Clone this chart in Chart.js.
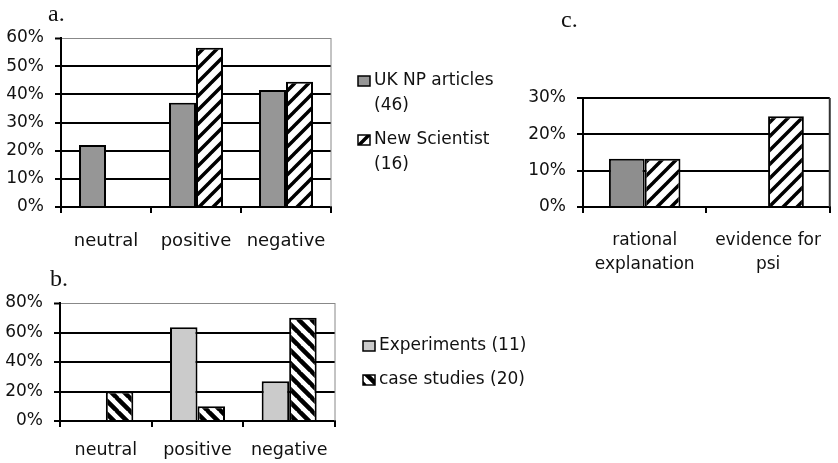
<!DOCTYPE html>
<html>
<head>
<meta charset="utf-8">
<script src="https://cdn.jsdelivr.net/npm/chart.js@4"></script>
<style>
    body { margin: 0; background: #fff; }
    #wrap { position: relative; width: 838px; height: 463px; overflow: hidden; }
    canvas { position: absolute; }
</style>
</head>
<body>
<div id="wrap">
    <canvas id="chartA" width="520" height="255" style="left:0;top:0;width:520px;height:255px"></canvas>
    <canvas id="chartB" width="560" height="208" style="left:0;top:255px;width:560px;height:208px"></canvas>
    <canvas id="chartC" width="338" height="300" style="left:500px;top:0;width:338px;height:300px"></canvas>
</div>
<script>
// a. tone of coverage, UK newspapers vs New Scientist
const toneCategories = ["neutral", "positive", "negative"];
const ukNpLabel      = ["UK NP articles", "(46)"];
const newSciLabel    = ["New Scientist", "(16)"];
const ukNpTone       = [22, 37, 41.5];
const newSciTone     = [0, 56.5, 44.5];
const toneTicks      = [0, 10, 20, 30, 40, 50, 60];

// b. experiments vs case studies
const experimentsLabel = ["Experiments (11)"];
const caseStudiesLabel = ["case studies (20)"];
const experimentsTone  = [0, 63.5, 27];
const caseStudiesTone  = [20, 10, 70];
const studyTicks       = [0, 20, 40, 60, 80];

// c. explanation offered
const explainCategories = [["rational", "explanation"], ["evidence for", "psi"]];
const ukNpExplain       = [13.3, 0];
const newSciExplain     = [13.3, 25];
const explainTicks      = [0, 10, 20, 30];

Chart.defaults.font.family = "'DejaVu Sans', sans-serif";
Chart.defaults.color = "#111";
Chart.defaults.animation = false;

function hatch(size, width, forward){
    const c = document.createElement("canvas");
    c.width = size;
    c.height = size;
    const g = c.getContext("2d");
    g.fillStyle = "#fff";
    g.fillRect(0, 0, size, size);
    g.strokeStyle = "#000";
    g.lineWidth = width;
    g.beginPath();
    for(let k = -1; k <= 1; k++){
        if(forward){
            g.moveTo(k * size - 1, size + 1);
            g.lineTo(k * size + size + 1, -1);
        } else {
            g.moveTo(k * size - 1, -1);
            g.lineTo(k * size + size + 1, size + 1);
        }
    }
    g.stroke();
    return g.createPattern(c, "repeat");
}

const slashA = hatch(14, 3.5, true);
const backB  = hatch(13, 4.5, false);

// panel letters, legend and the grey frame
const decorations = {
    id: "decorations",
    afterDraw(chart){
        const o = chart.options.plugins.decorations;
        const ctx = chart.ctx;
        const area = chart.chartArea;
        ctx.save();

        ctx.strokeStyle = o.frameColor;
        ctx.lineWidth = o.frameWidth;
        ctx.beginPath();
        ctx.moveTo(area.right, area.top);
        ctx.lineTo(area.right, area.bottom);
        ctx.stroke();

        ctx.fillStyle = "#111";
        ctx.font = "24px 'Liberation Serif', serif";
        ctx.textBaseline = "alphabetic";
        ctx.fillText(o.letter, o.letterX, o.letterY);

        if(o.legend){
            ctx.font = "17px 'DejaVu Sans', sans-serif";
            ctx.textBaseline = "middle";
            chart.data.datasets.forEach((ds, i) => {
                const y = o.legend.y[i];
                ctx.fillStyle = ds.backgroundColor;
                ctx.fillRect(o.legend.x, y - 5, 12, 10);
                ctx.strokeStyle = "#000";
                ctx.lineWidth = 1.5;
                ctx.strokeRect(o.legend.x, y - 5, 12, 10);
                ctx.fillStyle = "#111";
                ds.label.forEach((line, j) => {
                    ctx.fillText(line, o.legend.x + 16, y + j * o.legend.lineGap);
                });
            });
        }
        ctx.restore();
    }
};

function makeChart(id, cfg){
    const top = cfg.ticks[cfg.ticks.length - 1];
    return new Chart(document.getElementById(id), {
        type: "bar",
        data: {
            labels: cfg.labels,
            datasets: cfg.datasets.map(d => ({
                label: d.label,
                data: d.data,
                backgroundColor: d.fill,
                borderColor: "#000",
                borderWidth: 2,
                categoryPercentage: cfg.catPct,
                barPercentage: 1
            }))
        },
        options: {
            responsive: false,
            layout: { padding: cfg.padding },
            plugins: {
                legend: { display: false },
                tooltip: { enabled: false },
                decorations: cfg.deco
            },
            scales: {
                x: {
                    grid: {
                        offset: true,
                        drawOnChartArea: false,
                        color: "#000",
                        lineWidth: 2,
                        tickLength: 6
                    },
                    border: { color: "#000", width: 2 },
                    ticks: {
                        padding: cfg.xPad,
                        font: { size: cfg.xFont, lineHeight: 1.4 },
                        color: "#111"
                    },
                    afterFit(scale){ scale.height = cfg.xHeight; }
                },
                y: {
                    min: 0,
                    max: top,
                    afterBuildTicks(scale){
                        scale.ticks = cfg.ticks.map(v => ({ value: v }));
                    },
                    grid: {
                        color: ctx => ctx.tick && ctx.tick.value === top ? cfg.topColor : "#000",
                        lineWidth: ctx => ctx.tick && ctx.tick.value === top ? cfg.topWidth : 2,
                        tickColor: "#000",
                        tickWidth: 2,
                        tickLength: 6
                    },
                    border: { color: "#000", width: 2 },
                    ticks: {
                        padding: 11,
                        font: { size: 17 },
                        color: "#111",
                        callback: v => v + "%"
                    },
                    afterFit(scale){ scale.width = cfg.yWidth; }
                }
            }
        },
        plugins: [decorations]
    });
}

makeChart("chartA", {
    labels: toneCategories,
    datasets: [
        { label: ukNpLabel,   data: ukNpTone,   fill: "#969696" },
        { label: newSciLabel, data: newSciTone, fill: slashA }
    ],
    ticks: toneTicks,
    catPct: 0.6,
    padding: { left: 0, top: 38, right: 189, bottom: 0 },
    yWidth: 61,
    xHeight: 48,
    xPad: 16,
    xFont: 18,
    topColor: "#888",
    topWidth: 1,
    deco: {
        letter: "a.", letterX: 48, letterY: 21,
        frameColor: "#888", frameWidth: 1,
        legend: { x: 358, y: [81, 140], lineGap: 25 }
    }
});

makeChart("chartB", {
    labels: toneCategories,
    datasets: [
        { label: experimentsLabel, data: experimentsTone, fill: "#cbcbcb" },
        { label: caseStudiesLabel, data: caseStudiesTone, fill: backB }
    ],
    ticks: studyTicks,
    catPct: 0.6,
    padding: { left: 0, top: 48, right: 225, bottom: 0 },
    yWidth: 60,
    xHeight: 42,
    xPad: 11,
    xFont: 17.5,
    topColor: "#888",
    topWidth: 1,
    deco: {
        letter: "b.", letterX: 50, letterY: 31,
        frameColor: "#888", frameWidth: 1,
        legend: { x: 363, y: [91, 125], lineGap: 25 }
    }
});

makeChart("chartC", {
    labels: explainCategories,
    datasets: [
        { label: ukNpLabel,   data: ukNpExplain,   fill: "#8e8e8e" },
        { label: newSciLabel, data: newSciExplain, fill: slashA }
    ],
    ticks: explainTicks,
    catPct: 0.58,
    padding: { left: 0, top: 98, right: 4, bottom: 0 },
    yWidth: 83,
    xHeight: 93,
    xPad: 16,
    xFont: 17,
    topColor: "#000",
    topWidth: 2,
    deco: {
        letter: "c.", letterX: 61, letterY: 27,
        frameColor: "#333", frameWidth: 2,
        legend: null
    }
});
</script>
</body>
</html>
